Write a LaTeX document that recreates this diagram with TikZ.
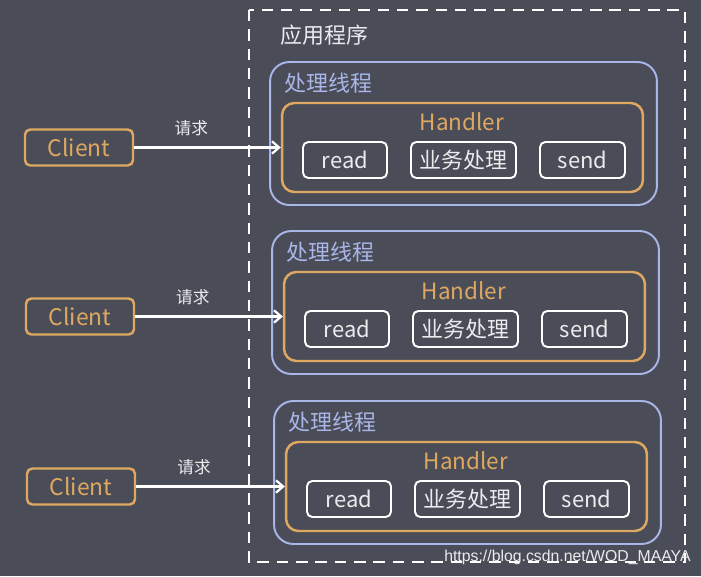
\documentclass[tikz,border=0pt]{standalone}
\usepackage{fontspec}
\newfontfamily\cjk{Noto Sans CJK SC}
\newfontfamily\wmfont{Liberation Sans}
\usetikzlibrary{arrows.meta}
\definecolor{bgcol}{RGB}{74,77,88}
\definecolor{orng}{RGB}{222,168,96}
\definecolor{lav}{RGB}{170,182,232}
\definecolor{ltxt}{RGB}{235,235,238}

\begin{document}
\begin{tikzpicture}[x=0.02cm,y=-0.02cm,
  every node/.style={font=\cjk, inner sep=0pt},
  clientbox/.style={draw=orng, line width=1.4pt, rounded corners=3pt, text=orng,
    minimum width=2.16cm, minimum height=0.72cm, font=\cjk\fontsize{13}{15}\selectfont},
  threadbox/.style={draw=lav, line width=1.1pt, rounded corners=11pt,
    minimum width=7.74cm, minimum height=2.86cm},
  handlerbox/.style={draw=orng, line width=1.4pt, rounded corners=7pt,
    minimum width=7.22cm, minimum height=1.78cm},
  opbox/.style={draw=white, line width=1.1pt, rounded corners=3pt, text=ltxt,
    minimum height=0.72cm, font=\cjk\fontsize{12.5}{14}\selectfont},
  req/.style={draw=white, line width=1.3pt, -{Straight Barb[length=4pt,width=7pt]}}]
\fill [bgcol] (0,0) rectangle (701,576);
\useasboundingbox (0,0) rectangle (701,576);
% application frame
\draw [white, line width=1.4pt, dash pattern=on 6.5pt off 4.5pt] (249,10) rectangle (685,562);
\node (app) [anchor=west, text=ltxt, font=\cjk\fontsize{12.5}{14}\selectfont] at (280,35) {应用程序};
% three threads, each with its client
\foreach \i/\y/\dx in {1/0/0, 2/169/2, 3/339/4}
{
  \node (thread\i) [threadbox] at (463.5+\dx,133.5+\y) {};
  \node (tname\i) [anchor=west, text=lav, font=\cjk\fontsize{12.5}{14}\selectfont] at (284+\dx,83+\y) {处理线程};
  \node (handler\i) [handlerbox] at (462.5+\dx,147.5+\y) {};
  \node (hname\i) [text=orng, font=\cjk\fontsize{12.8}{14}\selectfont] at (462+\dx,122+\y) {Handler};
  \node (read\i) [opbox, minimum width=1.68cm] at (345+\dx,160+\y) {read};
  \node (biz\i) [opbox, minimum width=2.1cm] at (463.5+\dx,160+\y) {业务处理};
  \node (send\i) [opbox, minimum width=1.7cm] at (582.5+\dx,160+\y) {send};
  \node (client\i) [clientbox] at (79+\dx/2,147.5+\y) {Client};
  \draw [req] (client\i) -- (handler\i) node [pos=0.39, above=6pt, text=ltxt, font=\cjk\fontsize{9.5}{11}\selectfont] {请求};
}
\node (mark) [anchor=east, text=ltxt, font=\wmfont\fontsize{9}{10}\selectfont] at (691,557) {https://blog.csdn.net/WOD\_MAAYA};
\end{tikzpicture}
\end{document}
